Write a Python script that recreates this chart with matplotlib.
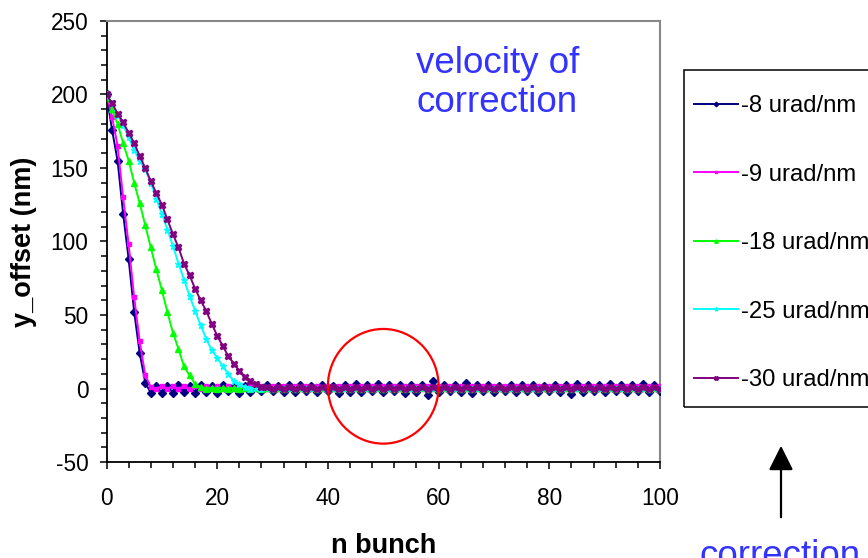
import numpy as np
import matplotlib
matplotlib.use("Agg")
import matplotlib.pyplot as plt
from matplotlib.patches import Ellipse, Rectangle, FancyArrowPatch

plt.rcParams['font.family'] = ['Liberation Sans', 'DejaVu Sans']
plt.rcParams['axes.unicode_minus'] = False

n_bunch = np.arange(0, 101)

labels = ["-8 urad/nm", "-9 urad/nm", "-18 urad/nm", "-25 urad/nm", "-30 urad/nm"]
colors = ["#000080", "#FF00FF", "#00FF00", "#00FFFF", "#800080"]

v8 = [200, 176, 155, 119, 88, 52, 24, 4, -3,
      2, -3, 2, -3, 2.5, -2.5, 2, -3, 2.5, -2.5,
      2, -3, 2.5, -2, 2, -3, 2, -2.5, 2, -2,
      2.5, -2, 2, -2.5, 2.5, -2.5, 2.5, -2, 2, -2.5,
      2.5, -2, 2, -3, 2.5, -2.5, 3, -2.5, 2.5, -2,
      3, -2.5, 2.5, -2, 2.5, -3, 2.5, -2.5, 2.5, -4.5,
      5, -2.5, 2.5, -2, 2.5, -2.5, 4, -3, 2.5, -2,
      2.5, -2.5, 2, -2, 2.5, -2.5, 2.5, -2, 2.5, -2.5,
      2, -2, 2.5, -2.5, 2.5, -4, 3, -2.5, 2.5, -2,
      2.5, -2.5, 3, -2, 2.5, -2.5, 2.5, -2, 3, -2.5,
      2.5, -2]
v9 = [200, 185, 165, 130, 98, 62, 32, 9, 1,
      0, 1.5, 0, 1.5, 0, 1.5, 0, 1.5, 0, 2,
      0, 1.5, 0, 1.5, 0, 1.5, 0, 1.5, 0, 1.5,
      0, 1.5, 0, 1.5, 0, 1.5, 0, 1.5, 0, 1.5,
      0, 1.5, 0, 1.5, 0, 1.5, 0, 1.5, 0, 1.5,
      0, 1.5, 0, 1.5, 0, 1.5, 0, 1.5, 0, 1.5,
      0, 1.5, 0, 1.5, 0, 2, 0, 1.5, 0, 2,
      0, 1.5, 0, 2, 0, 1.5, 0, 2, 0, 1.5,
      0, 1.5, 0, 1.5, 0, 2, 0, 2, 0, 1.5,
      0, 2, 0, 1.5, 0, 2, 0, 1.5, 0, 2,
      0, 1.5]
v18 = [200, 190, 180, 167, 155, 140, 126, 111, 96, 81,
       67, 52, 38, 27, 15, 9, 3, 1, 0, 0.5,
       0, 0.5, 0, 0.5, 0, 0.5, 0, 0.5, 0, 0.5,
       0, 0.5, 0, 0.5, 0, 0.5, 0, 0.5, 0, 0.5,
       0, 0.5, 0, 0.5, 0, 0.5, 0, 0.5, 0, 0.5,
       0, 0.5, 0, 0.5, 0, 0.5, 0, 0.5, 0, 0.5,
       0, 0.5, 0, 0.5, 0, 0.5, 0, 0.5, 0, 0.5,
       0, 0.5, 0, 0.5, 0, 0.5, 0, 0.5, 0, 0.5,
       0, 0.5, 0, 0.5, 0, 0.5, 0, 0.5, 0, 0.5,
       0, 0.5, 0, 0.5, 0, 0.5, 0, 0.5, 0, 0.5,
       0]
v25 = [200, 194, 186, 179, 171, 162, 155, 149, 140, 129,
       119, 108, 97, 85, 74, 63, 53, 43, 34, 26,
       21, 15, 10, 5, 3, 1, 0, 0.5, 0, 0.5,
       0, 0.5, 0, 0.5, 0, 0.5, 0, 0.5, 0, 0.5,
       0, 0.5, 0, 0.5, 0, 0.5, 0, 0.5, 0, 0.5,
       0, 0.5, 0, 0.5, 0, 0.5, 0, 0.5, 0, 0.5,
       0, 0.5, 0, 0.5, 0, 0.5, 0, 0.5, 0, 0.5,
       0, 0.5, 0, 0.5, 0, 0.5, 0, 0.5, 0, 0.5,
       0, 0.5, 0, 0.5, 0, 0.5, 0, 0.5, 0, 0.5,
       0, 0.5, 0, 0.5, 0, 0.5, 0, 0.5, 0, 0.5,
       0]
v30 = [200, 194, 187, 181, 174, 167, 158, 150, 141, 133,
       125, 115, 105, 96, 85, 77, 68, 60, 53, 44,
       36, 29, 22, 17, 12, 8, 5, 3, 1, 1,
       -0.5, 1, -0.5, 1, -0.5, 1, -0.5, 1, -0.5, 1,
       -0.5, 1, -0.5, 1, -0.5, 1, -0.5, 1, -0.5, 1,
       -0.5, 1, -0.5, 1, -0.5, 1, -0.5, 1, -0.5, 1,
       -0.5, 1, -0.5, 1, -0.5, 1, -0.5, 1, -0.5, 1,
       -0.5, 1, -0.5, 1, -0.5, 1, -0.5, 1, -0.5, 1,
       -0.5, 1, -0.5, 1, -0.5, 1, -0.5, 1, -0.5, 1,
       -0.5, 1, -0.5, 1, -0.5, 1, -0.5, 1, -0.5, 1,
       -0.5]

series = [v8, v9, v18, v25, v30]
markers = ["D", "s", "^", "*", "X"]
msizes = [3.8, 3.2, 4.2, 4.8, 4.6]

W, H = 868, 558
fig = plt.figure(figsize=(8.68, 5.58), dpi=100)
ax = fig.add_axes([106.5 / W, 1 - 462 / H, (660 - 106.5) / W, (462 - 21) / H])

for vals, lab, col, mk, ms in zip(series, labels, colors, markers, msizes):
    ax.plot(n_bunch, vals, color=col, lw=1.4, marker=mk, ms=ms, mec=col, mfc=col,
            label=lab, zorder=3)

ax.set_xlim(0, 100)
ax.set_ylim(-50, 250)
ax.set_xticks(np.arange(0, 101, 20))
ax.set_xticks(np.arange(0, 101, 4), minor=True)
ax.set_yticks(np.arange(-50, 251, 50))
ax.set_yticks(np.arange(-50, 251, 10), minor=True)
ax.tick_params(axis='both', which='major', direction='out', length=5, width=1.1,
               labelsize=16.3, color='black')
ax.tick_params(axis='both', which='minor', direction='out', length=4, width=1.1, color='black')
ax.tick_params(axis='x', which='major', pad=13)
ax.tick_params(axis='y', which='major', pad=8)

for side in ['left', 'bottom']:
    ax.spines[side].set_color('black')
    ax.spines[side].set_linewidth(1.3)
for side in ['top', 'right']:
    ax.spines[side].set_color('#888888')
    ax.spines[side].set_linewidth(1.5)

ax.set_xlabel("n bunch", fontsize=19.5, fontweight='bold')
ax.xaxis.set_label_coords(0.5, -(533 - 462) / 441)
ax.set_ylabel("y_offset (nm)", fontsize=19.5, fontweight='bold')
ax.yaxis.set_label_coords(-(106.5 - 37) / 553.5, 0.5)

circ = Ellipse((50, 1.5), width=20, height=78, fill=False, edgecolor='#FF0000', lw=1.6, zorder=4)
ax.add_patch(circ)

fig.text(416 / W, 1 - 112 / H, "velocity of\ncorrection", color='#3333FF', fontsize=26.5,
         ha='left', va='baseline', linespacing=1.13)

# legend frame (extends beyond the right edge of the figure, as in the reference)
fig.add_artist(Rectangle((684 / W, 1 - 407 / H), 200 / W, (407 - 70) / H,
                         transform=fig.transFigure, fill=False, edgecolor='black', lw=1.1))
leg = fig.legend(loc='upper left', bbox_to_anchor=(694 / W, 1 - 95 / H),
                 borderaxespad=0, fontsize=17.2, frameon=False,
                 handlelength=1.85, handletextpad=0.1,
                 labelspacing=1.95, borderpad=0.0, markerscale=0.6)

fig.text(780 / W, 1 - 566 / H, "correction", color='#3333FF', fontsize=26.5,
         ha='center', va='baseline')
fig.add_artist(FancyArrowPatch(
    (781 / W, 1 - 520 / H), (781 / W, 1 - 443 / H), transform=fig.transFigure,
    arrowstyle='-|>,head_length=6,head_width=3', color='black', lw=1.6, mutation_scale=2.5))

fig.savefig("out.png", dpi=100)
